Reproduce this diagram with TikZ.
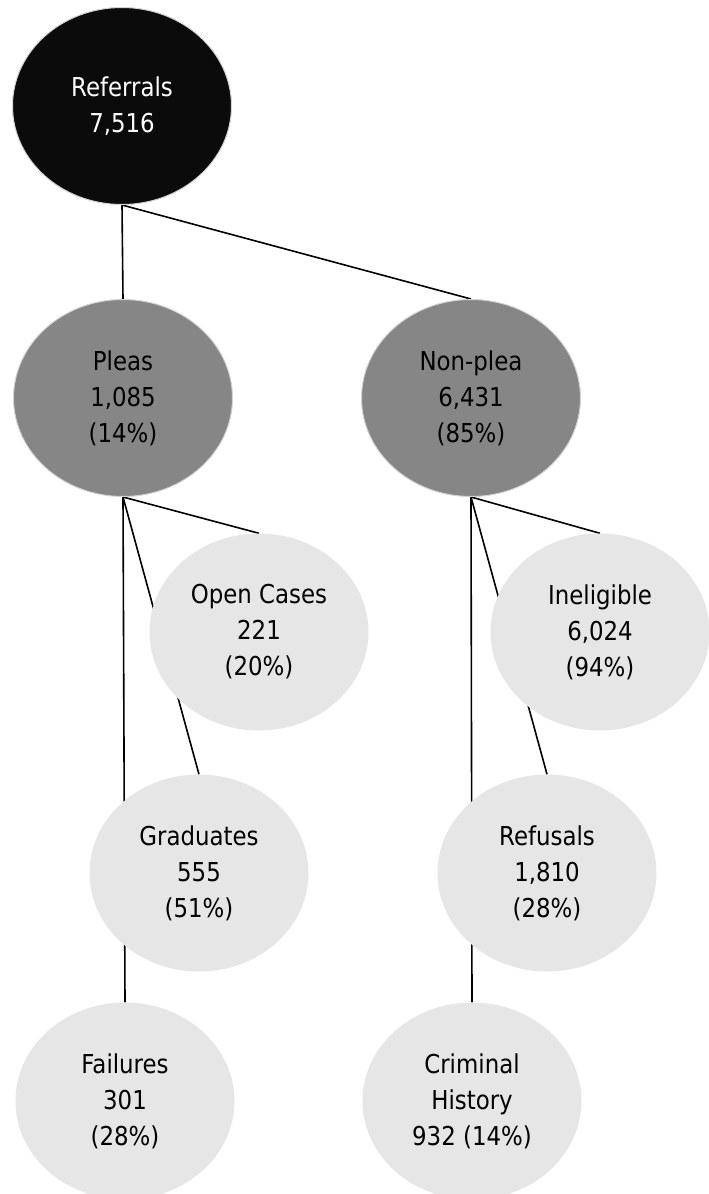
\documentclass[tikz,border=0pt]{standalone}
\usepackage{fontspec}
\setmainfont[FakeStretch=0.88]{DejaVu Sans}
\usetikzlibrary{shapes.geometric,backgrounds}
\definecolor{topfill}{HTML}{0B0B0B}
\definecolor{midfill}{HTML}{868686}
\definecolor{lowfill}{HTML}{E6E6E6}
\definecolor{rimgray}{HTML}{D4D4D4}
\tikzset{
  bubble/.style={ellipse, minimum width=219pt, minimum height=197pt, inner sep=0pt,
    align=center, font=\fontsize{26}{36}\selectfont},
  topnode/.style={bubble, fill=topfill, draw=rimgray, line width=1pt, text=white},
  midnode/.style={bubble, fill=midfill, draw=rimgray, line width=1pt, text=black},
  lownode/.style={bubble, fill=lowfill, text=black},
  link/.style={draw=black, line width=1.6pt}
}
\begin{document}
\begin{tikzpicture}[x=1pt,y=-1pt]
\useasboundingbox (0,0) rectangle (709,1194);
\clip (0,0) rectangle (709,1194);
\node[topnode] (ref) at (122,106) {Referrals\\7,516};
\node[midnode] (pleas) at (123,398) {Pleas\\1,085\\(14\%)};
\node[midnode] (nonplea) at (471,398) {Non-plea\\6,431\\(85\%)};
\node[lownode] (open) at (259,632) {Open Cases\\221\\(20\%)};
\node[lownode] (inel) at (600,632) {Ineligible\\6,024\\(94\%)};
\node[lownode] (grad) at (199,873) {Graduates\\555\\(51\%)};
\node[lownode] (refus) at (547,873) {Refusals\\1,810\\(28\%)};
\node[lownode] (fail) at (125,1101) {Failures\\301\\(28\%)};
\node[lownode] (crim) at (472,1101) {Criminal\\History\\932 (14\%)};
\begin{pgfonlayer}{background}
\fill[white] (0,0) rectangle (709,1194);
\draw[link] (ref.south) -- (pleas.north);
\draw[link] (ref.south) -- (nonplea.north);
\draw[link] (pleas.south) -- (open.north);
\draw[link] (pleas.south) -- (grad.north);
\draw[link] (pleas.south) -- (fail.north);
\draw[link] (nonplea.south) -- (inel.north);
\draw[link] (nonplea.south) -- (refus.north);
\draw[link] (nonplea.south) -- (crim.north);
\end{pgfonlayer}
\end{tikzpicture}
\end{document}
